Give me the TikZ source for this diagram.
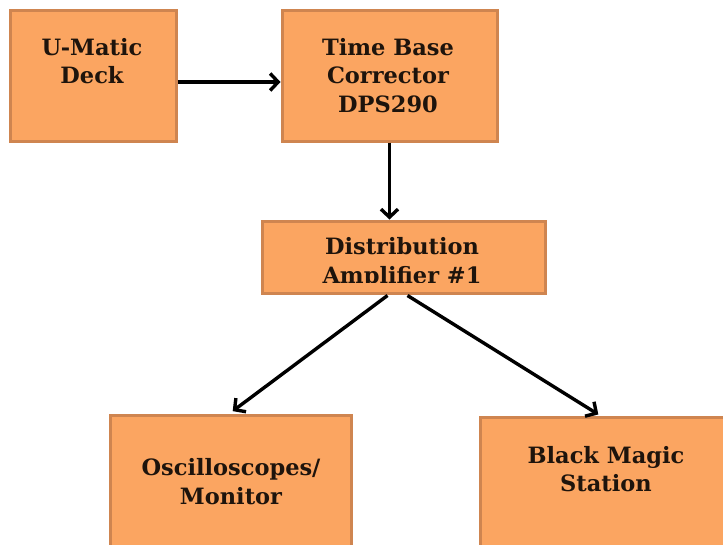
\documentclass[tikz,border=0pt]{standalone}
\usepackage{fontspec}
\setmainfont{DejaVu Serif}
\usetikzlibrary{arrows.meta}
\definecolor{boxfill}{HTML}{FBA561}
\definecolor{boxline}{HTML}{CF8550}
\definecolor{txt}{HTML}{1E140C}
\tikzset{
  box/.style={draw=boxline, fill=boxfill, line width=3pt, rectangle, inner sep=0pt},
  lbl/.style={font=\fontsize{22.5}{28.5}\selectfont\bfseries, text=txt, anchor=base, inner sep=0pt},
  conn/.style={line width=3.4pt, -{Straight Barb[length=8pt,width=17pt,line width=3.4pt]}}
}
\begin{document}
\begin{tikzpicture}[x=1pt,y=-1pt]
\useasboundingbox (0,0) rectangle (723,544);
% boxes
\node[box, minimum width=166pt, minimum height=131pt] (um) at (93,75.5) {};
\node[box, minimum width=215pt, minimum height=131pt] (tbc) at (389.5,75.5) {};
\node[box, minimum width=283pt, minimum height=72pt] (dist) at (403.5,257) {};
\node[box, minimum width=241pt, minimum height=150pt] (osc) at (230.5,490) {};
\node[box, minimum width=250pt, minimum height=150pt] (bm) at (605,492) {};
% labels
\node[lbl] (umt1) at (92,55) {U-Matic};
\node[lbl] (umt2) at (92,83) {Deck};
\node[lbl] (tbct1) at (388,55) {Time Base};
\node[lbl] (tbct2) at (388,83) {Corrector};
\node[lbl] (tbct3) at (388,112) {DPS290};
\node[lbl] (distt1) at (402,254) {Distribution};
\begin{scope}
  \clip (262,221) rectangle (545,282);
  \node[lbl] (distt2) at (402,283) {Amplifier \#1};
\end{scope}
\node[lbl] (osct1) at (231,475) {Oscilloscopes/};
\node[lbl] (osct2) at (231,504) {Monitor};
\node[lbl] (bmt1) at (606,463) {Black Magic};
\node[lbl] (bmt2) at (606,491) {Station};
% connectors
\draw[conn] (um.east |- 0,82) -- (tbc.west |- 0,82);
\draw[conn] (tbc.south) -- (tbc.south |- dist.north);
\coordinate (dl) at ([xshift=-16pt,yshift=-1pt]dist.south);
\coordinate (dr) at ([xshift=4pt,yshift=-1pt]dist.south);
\draw[conn, shorten >=4pt] (dl) -- ([xshift=-1pt]osc.north);
\draw[conn, shorten >=2pt] (dr) -- ([xshift=-5pt]bm.north);
\end{tikzpicture}
\end{document}
